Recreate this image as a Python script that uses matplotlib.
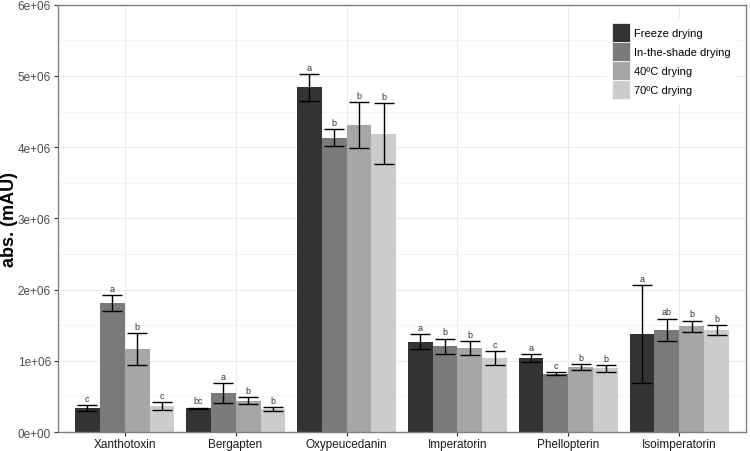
import numpy as np
import matplotlib.pyplot as plt
from matplotlib.ticker import MultipleLocator, FuncFormatter

plt.rcParams["font.family"] = ["Liberation Sans", "DejaVu Sans"]

compounds = ["Xanthotoxin", "Bergapten", "Oxypeucedanin", "Imperatorin", "Phellopterin", "Isoimperatorin"]
treatments = ["Freeze drying", "In-the-shade drying", "40ºC drying", "70ºC drying"]

# mean values (mAU), one list per treatment
freeze = [0.337e6, 0.333e6, 4.84e6, 1.27e6, 1.037e6, 1.374e6]
shade = [1.81e6, 0.544e6, 4.13e6, 1.205e6, 0.816e6, 1.434e6]
dry40 = [1.167e6, 0.436e6, 4.31e6, 1.177e6, 0.91e6, 1.487e6]
dry70 = [0.366e6, 0.319e6, 4.19e6, 1.036e6, 0.896e6, 1.434e6]

# error bar half-widths
freeze_err = [0.04e6, 0.01e6, 0.19e6, 0.105e6, 0.055e6, 0.69e6]
shade_err = [0.11e6, 0.143e6, 0.12e6, 0.107e6, 0.02e6, 0.16e6]
dry40_err = [0.222e6, 0.049e6, 0.32e6, 0.10e6, 0.04e6, 0.078e6]
dry70_err = [0.058e6, 0.028e6, 0.43e6, 0.096e6, 0.05e6, 0.068e6]

# significance letters
freeze_lab = ["c", "bc", "a", "a", "a", "a"]
shade_lab = ["a", "a", "b", "b", "c", "ab"]
dry40_lab = ["b", "b", "b", "b", "b", "b"]
dry70_lab = ["c", "b", "b", "c", "b", "b"]

means = [freeze, shade, dry40, dry70]
errs = [freeze_err, shade_err, dry40_err, dry70_err]
labels = [freeze_lab, shade_lab, dry40_lab, dry70_lab]
colors = ["#333333", "#7a7a7a", "#a6a6a6", "#cccccc"]

fig = plt.figure(figsize=(7.5, 4.52), dpi=100)
ax = fig.add_axes([0.0773, 0.042, 0.9174, 0.9453])

x = np.arange(1, len(compounds) + 1)
w = 0.225
for i in range(4):
    pos = x + (i - 1.5) * w
    ax.bar(pos, means[i], width=w, color=colors[i], label=treatments[i], zorder=2)
    ax.errorbar(pos, means[i], yerr=errs[i], fmt="none", ecolor="black",
                elinewidth=1.0, capsize=7, capthick=1.0, zorder=3)
    for p, m, e, t in zip(pos, means[i], errs[i], labels[i]):
        ax.text(p, m + e + 0.03e6, t, ha="center", va="bottom", fontsize=6.5,
                color="#333333", zorder=4)

ax.set_xlim(0.4, 6.6)
ax.set_ylim(0, 6.0e6)
ax.set_xticks(x)
ax.set_xticklabels(compounds, fontsize=8.5, color="#1a1a1a")
ax.yaxis.set_major_locator(MultipleLocator(1e6))
ax.yaxis.set_minor_locator(MultipleLocator(0.5e6))
ax.yaxis.set_major_formatter(FuncFormatter(lambda v, p: "0e+00" if v == 0 else "%de+06" % round(v / 1e6)))
ax.tick_params(axis="y", labelsize=8.5, labelcolor="#4d4d4d", length=3, pad=2, color="#333333")
ax.tick_params(axis="x", length=3, pad=1.5, color="#333333")
ax.tick_params(which="minor", length=0)
ax.grid(which="major", color="#ebebeb", linewidth=0.8, zorder=0)
ax.grid(which="minor", axis="y", color="#f2f2f2", linewidth=0.6, zorder=0)
ax.set_axisbelow(True)
for s in ax.spines.values():
    s.set_color("#7f7f7f")
    s.set_linewidth(1.0)

fig.text(10 / 750, 0.514, "abs. (mAU)", rotation=90, ha="center", va="center",
         fontsize=13, fontweight="bold")

leg = ax.legend(loc="upper left", bbox_to_anchor=(0.79, 0.98), fontsize=8,
                frameon=True, facecolor="white", edgecolor="white", framealpha=1,
                handlelength=1.65, handleheight=2.25, handletextpad=0.35,
                labelspacing=0.0, borderpad=0.4)
for h in leg.legend_handles:
    h.set_edgecolor("#ffffff")
    h.set_linewidth(0.5)

fig.savefig("out.png", dpi=100)
